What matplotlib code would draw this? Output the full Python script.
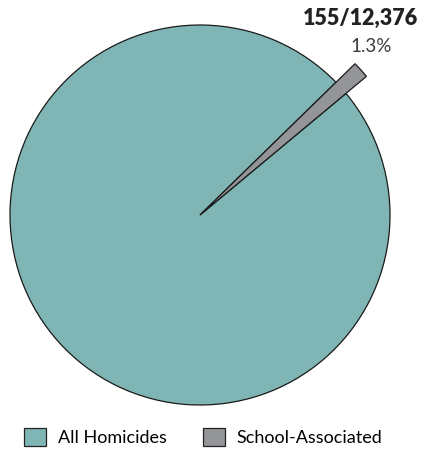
import matplotlib
matplotlib.use("Agg")
import matplotlib.pyplot as plt
from matplotlib.patches import Patch

categories = ["All Homicides", "School-Associated"]
values = [12376 - 155, 155]
label_top = "155/12,376"
label_pct = "1.3%"
colors = ["#7fb6b5", "#939598"]

plt.rcParams['font.family'] = ['Lato', 'DejaVu Sans']

W, H, dpi = 422, 449, 100
fig = plt.figure(figsize=(W / dpi, H / dpi), dpi=dpi)
ax = fig.add_axes([0, 0, 1, 1])

cx, cy, R = 200, 215, 190  # pixel center and radius
wedges, _ = ax.pie(values, colors=colors, startangle=44.3, counterclock=True,
                   wedgeprops=dict(edgecolor="#1a1a1a", linewidth=0.9))
wedges[1].set_radius(1.14)
wedges[1].set_zorder(3)

ax.set_aspect('auto')
ax.set_xlim((0 - cx) / R, (W - cx) / R)
ax.set_ylim((cy - H) / R, (cy - 0) / R)
ax.axis('off')

fig.text(361 / W, 1 - 18 / H, label_top, ha='center', va='center',
         fontsize=15.5, fontweight='heavy', color='#222222')
fig.text(371 / W, 1 - 46 / H, label_pct, ha='center', va='center',
         fontsize=13.5, fontweight='normal', color='#3a3a3a')

handles = [Patch(facecolor=c, edgecolor='#222222', linewidth=0.9) for c in colors]
fig.legend(handles, categories, loc='center', bbox_to_anchor=(0.482, 1 - 437 / H),
           ncol=2, frameon=False, fontsize=13, handlelength=1.2, handleheight=1.2,
           handletextpad=0.65, columnspacing=2.05)

fig.savefig("out.png", dpi=dpi)
